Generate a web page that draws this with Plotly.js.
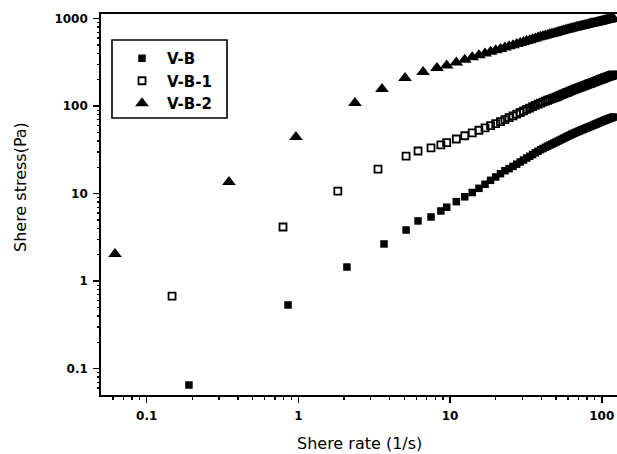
<!DOCTYPE html>
<html>
<head>
<meta charset="utf-8">
<script src="https://cdn.plot.ly/plotly-3.0.1.min.js"></script>
<style>html,body{margin:0;padding:0;background:#fff;}#chart{width:617px;height:454px;}</style>
</head>
<body>
<div id="chart"></div>
<script>
// ---- data ----
var seriesNames = ["V-B", "V-B-1", "V-B-2"];

var denseRate = [9.5, 11, 12.5, 14, 15.5, 17, 18.5, 20, 21.5, 23, 24.5, 26, 27.5, 29, 30.5, 32, 33.5, 35, 36.5, 38,
  39.5, 41, 42.5, 44, 45.5, 47, 48.5, 50, 51.5, 53, 54.5, 56, 57.5, 59, 60.5, 62, 63.5, 65, 66.5, 68,
  69.5, 71, 72.5, 74, 75.5, 77, 78.5, 80, 81.5, 83, 84.5, 86, 87.5, 89, 90.5, 92, 93.5, 95, 96.5, 98,
  99.5, 101, 102.5, 104, 105.5, 107, 108.5, 110, 111.5, 113, 114.5, 116, 117.5, 119];

var vbRateLow = [0.19, 0.855, 2.09, 3.67, 5.13, 6.15, 7.49, 8.7];
var vbStressLow = [0.065, 0.534, 1.45, 2.66, 3.84, 4.88, 5.41, 6.34];
var vbStressDense = [7.0, 8.1, 9.2, 10.3, 11.5, 12.8, 14.2, 15.5, 16.9, 18.3, 19.3, 20.5, 21.7, 23.0, 24.2, 25.5, 26.7, 28.0, 29.3, 30.5,
  31.8, 32.8, 33.9, 34.9, 35.9, 36.9, 37.9, 38.9, 39.9, 40.9, 41.9, 42.9, 43.9, 44.9, 45.9, 46.8, 47.8, 48.7, 49.5, 50.4,
  51.2, 52.0, 52.8, 53.6, 54.3, 55.1, 55.9, 56.7, 57.4, 58.2, 59.0, 59.7, 60.5, 61.2, 62.0, 62.7, 63.5, 64.2, 64.9, 65.7,
  66.4, 67.1, 67.9, 68.6, 69.3, 70.0, 70.6, 71.3, 72.0, 72.6, 73.2, 73.8, 74.4, 75.0];

var vb1RateLow = [0.147, 0.792, 1.82, 3.35, 5.13, 6.15, 7.49, 8.7];
var vb1StressLow = [0.676, 4.16, 10.7, 19.1, 26.9, 30.7, 33.3, 36.0];
var vb1StressDense = [38.2, 42.1, 45.9, 49.5, 53.0, 56.5, 59.8, 63.0, 66.7, 70.3, 73.9, 77.5, 81.1, 84.6, 88.2, 91.7, 95.1, 98.6, 102.0, 105.4,
  108.5, 111.3, 114.0, 116.7, 119.2, 121.8, 124.4, 127.0, 129.8, 132.5, 135.2, 137.9, 140.6, 143.2, 145.9, 148.5, 151.1, 153.6, 155.9, 158.2,
  160.5, 162.7, 165.0, 167.2, 169.4, 171.6, 173.8, 176.0, 178.2, 180.4, 182.5, 184.7, 186.9, 189.0, 191.1, 193.2, 195.3, 197.4, 199.4, 201.5,
  203.6, 205.6, 207.6, 209.6, 211.6, 213.7, 215.6, 217.4, 219.2, 221.0, 222.7, 224.5, 226.2, 228.0];

var vb2RateLow = [0.0618, 0.349, 0.964, 2.36, 3.56, 5.05, 6.64, 8.2];
var vb2StressLow = [2.04, 13.6, 44.4, 108.6, 157, 210, 246, 273];
var vb2StressDense = [291.5, 316, 340, 362, 382, 400, 418, 435, 451, 467, 482, 498, 512, 527, 541, 555, 568, 581, 594, 607,
  619, 630, 641, 652, 662, 672, 683, 692, 702, 712, 721, 731, 740, 749, 758, 767, 776, 784, 791, 799,
  806, 813, 820, 827, 834, 840, 847, 854, 860, 867, 873, 880, 886, 892, 898, 904, 910, 916, 922, 928,
  934, 940, 945, 951, 956, 962, 968, 974, 980, 986, 992, 998, 1004, 1010];

var xMajorTicks = [0.1, 1, 10, 100];
var xMajorLabels = ["0.1", "1", "10", "100"];
var xMinorTicks = [0.06, 0.07, 0.08, 0.09, 0.2, 0.3, 0.4, 0.5, 0.6, 0.7, 0.8, 0.9, 2, 3, 4, 5, 6, 7, 8, 9, 20, 30, 40, 50, 60, 70, 80, 90];
var yMajorTicks = [0.1, 1, 10, 100, 1000];
var yMajorLabels = ["0.1", "1", "10", "100", "1000"];
var yMinorTicks = [0.06, 0.07, 0.08, 0.09, 0.2, 0.3, 0.4, 0.5, 0.6, 0.7, 0.8, 0.9, 2, 3, 4, 5, 6, 7, 8, 9,
  20, 30, 40, 50, 60, 70, 80, 90, 200, 300, 400, 500, 600, 700, 800, 900];

var xTitle = "Shere rate (1/s)";
var yTitle = "Shere stress(Pa)";

// ---- figure ----
var W = 617, H = 454;
var M = {l: 101, r: 0, t: 14, b: 59};
var pw = W - M.l - M.r, ph = H - M.t - M.b;
function px2x(p) { return (p - M.l) / pw; }
function px2y(p) { return (H - M.b - p) / ph; }

var xRange = [Math.log10(0.05), 2.1005];
var yRange = [Math.log10(0.05), 3.053];

var tickFont = {family: "DejaVu Sans", size: 12, color: "#000", weight: "bold"};

var traces = [
  {x: vbRateLow.concat(denseRate), y: vbStressLow.concat(vbStressDense), name: seriesNames[0],
   type: "scatter", mode: "markers", marker: {symbol: "square", size: 7.5, color: "#000"}},
  {x: vb1RateLow.concat(denseRate), y: vb1StressLow.concat(vb1StressDense), name: seriesNames[1],
   type: "scatter", mode: "markers", marker: {symbol: "square-open", size: 7, color: "#000", line: {width: 1.8, color: "#000"}}},
  {x: vb2RateLow.concat(denseRate), y: vb2StressLow.concat(vb2StressDense), name: seriesNames[2],
   type: "scatter", mode: "markers", marker: {symbol: "triangle-up", size: 12, color: "#000"}},
  {x: [], y: [], xaxis: "x2", yaxis: "y2", type: "scatter", mode: "markers", showlegend: false, hoverinfo: "skip"}
];

var layout = {
  width: W, height: H,
  margin: M,
  paper_bgcolor: "#fff", plot_bgcolor: "#fff",
  showlegend: true,
  legend: {x: px2x(117), y: px2y(42), xanchor: "left", yanchor: "top",
           bgcolor: "rgba(0,0,0,0)", borderwidth: 0, itemwidth: 40,
           font: {family: "DejaVu Sans", size: 15, color: "#000", weight: "bold"}},
  xaxis: {type: "log", range: xRange, tickmode: "array", tickvals: xMajorTicks, ticktext: xMajorLabels,
          ticks: "outside", ticklen: 6, tickwidth: 1.5, tickcolor: "#000",
          showline: true, linewidth: 1.8, linecolor: "#000", mirror: true,
          showgrid: false, zeroline: false, tickfont: tickFont, ticklabelstandoff: 3},
  yaxis: {type: "log", range: yRange, tickmode: "array", tickvals: yMajorTicks, ticktext: yMajorLabels,
          ticks: "outside", ticklen: 6, tickwidth: 1.5, tickcolor: "#000",
          showline: true, linewidth: 1.8, linecolor: "#000",
          showgrid: false, zeroline: false, tickfont: tickFont, ticklabelstandoff: 3},
  xaxis2: {type: "log", range: xRange, overlaying: "x", anchor: "y", side: "bottom", tickmode: "array", tickvals: xMinorTicks,
           ticks: "outside", ticklen: 3.5, tickwidth: 1.3, tickcolor: "#000", showticklabels: false,
           showline: false, showgrid: false, zeroline: false},
  yaxis2: {type: "log", range: yRange, overlaying: "y", anchor: "x", side: "left", tickmode: "array", tickvals: yMinorTicks,
           ticks: "outside", ticklen: 3.5, tickwidth: 1.3, tickcolor: "#000", showticklabels: false,
           showline: false, showgrid: false, zeroline: false},
  shapes: [{type: "rect", xref: "paper", yref: "paper",
            x0: px2x(112), x1: px2x(227), y0: px2y(118), y1: px2y(40),
            line: {color: "#000", width: 1.6}, fillcolor: "rgba(0,0,0,0)"}],
  annotations: [
    {text: xTitle, xref: "paper", yref: "paper", x: px2x(359), y: px2y(443), xanchor: "center", yanchor: "middle",
     showarrow: false, font: {family: "DejaVu Sans", size: 16, color: "#000"}},
    {text: yTitle, xref: "paper", yref: "paper", x: px2x(20), y: px2y(187), xanchor: "center", yanchor: "middle",
     textangle: -90, showarrow: false, font: {family: "DejaVu Sans", size: 16, color: "#000"}}
  ]
};

Plotly.newPlot("chart", traces, layout, {displayModeBar: false, staticPlot: true});
</script>
</body>
</html>
